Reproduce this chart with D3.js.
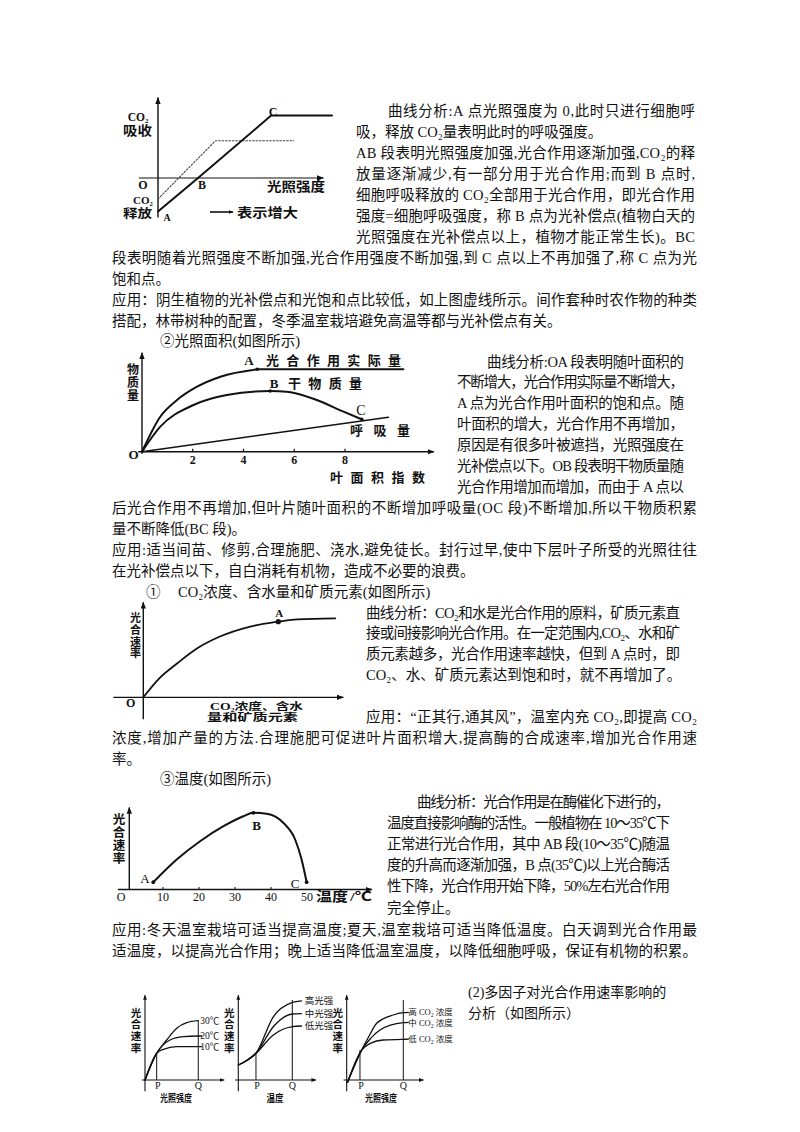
<!DOCTYPE html>
<html lang="zh-CN">
<head>
<meta charset="utf-8">
<title>光合作用影响因素</title>
<script src="https://cdn.jsdelivr.net/npm/d3@7/dist/d3.min.js"></script>
<style>
  html, body { margin:0; padding:0; background:#fff; }
  svg { display:block; }
</style>
</head>
<body>
<svg id="page" width="800" height="1132" viewBox="0 0 800 1132"></svg>
<script>
// ================= DATA =================
// Chart 1: 光照强度 vs CO2 吸收/释放
const c1Light = [0, 23, 65, 100];
const c1Sun = [-2.8, 0, 5.2, 5.2];
const c1LightShade = [0, 33, 78];
const c1Shade = [-1.75, 3.1, 3.1];

// Chart 2: 叶面积指数
const c2Ticks = [2, 4, 6, 8];
const c2LaiA = [0, 0.72, 1.38, 2.17, 3.09, 4.54, 10.3];
const c2Actual = [0, 35, 51.7, 65, 75, 82.4, 82.4];
const c2LaiB = [0, 0.72, 2.03, 3.34, 5.05, 5.71, 6.89, 7.94, 8.66];
const c2Dry = [0, 25, 46.7, 56.7, 60.7, 60, 51.7, 40, 32.4];
const c2LaiR = [0, 9.71];
const c2Resp = [0, 34.4];

// Chart 3: CO2浓度、含水量和矿质元素
const c3Conc = [0, 8, 17, 27, 38, 53, 67.5, 77, 96];
const c3Rate = [0, 19, 34, 49, 60.5, 70.5, 75.6, 78, 79];

// Chart 4: 温度
const c4Ticks = [10, 20, 30, 40, 50];
const c4Temp = [7.3, 13.8, 20.3, 26.8, 32.3, 35.1, 38.8, 43.4, 46.7, 48.5, 49.9];
const c4Rate = [7.3, 30, 48.3, 63.3, 73.3, 76.7, 75.7, 66.7, 50, 30, 7.3];

// Bottom charts (多因子)
const bL10x = [0, 14.6, 22.9, 39.6, 66.6, 71];
const bL10y = [0, 33.4, 38.4, 41.7, 41.7, 41.7];
const bL20x = [0, 14.6, 31.3, 47.9, 66.6, 71];
const bL20y = [0, 33.4, 50, 54.1, 55, 55];
const bL30x = [0, 14.6, 27.1, 39.6, 52.1, 66.6];
const bL30y = [0, 33.4, 50, 64.6, 71.6, 74.1];
const bLLabels = ['30℃', '20℃', '10℃'];

const bMx = [0, 10, 22.1, 43.75, 67.5, 79];
const bMLow = [18.75, 24, 33.4, 56.25, 66.6, 67.5];
const bMMid = [18.75, 24, 33.4, 66.6, 82.5, 83];
const bMHigh = [18.75, 24, 33.4, 79, 97, 99];
const bMLabels = ['高光强', '中光强', '低光强'];

const bRLowx = [1, 18.75, 30, 45.75, 70.75, 77];
const bRLowy = [-3, 37.5, 46, 50, 50.9, 51];
const bRMidx = [1, 18.75, 30, 41.6, 70.75, 77];
const bRMidy = [-3, 37.5, 52, 62.5, 71.6, 72];
const bRHighx = [1, 18.75, 28, 37.5, 58.25, 70.75, 77];
const bRHighy = [-3, 37.5, 55, 70.9, 81.25, 84.1, 84.5];
const bRLabels = ['高 CO₂ 浓度', '中 CO₂ 浓度', '低 CO₂ 浓度'];

// ================= TEXT =================
const txt1Side = [
  '曲线分析:A 点光照强度为 0,此时只进行细胞呼',
  '吸，释放 CO₂量表明此时的呼吸强度。',
  'AB 段表明光照强度加强,光合作用逐渐加强,CO₂的释',
  '放量逐渐减少,有一部分用于光合作用;而到 B 点时,',
  '细胞呼吸释放的 CO₂全部用于光合作用，即光合作用',
  '强度=细胞呼吸强度，称 B 点为光补偿点(植物白天的',
  '光照强度在光补偿点以上，植物才能正常生长)。BC'
];
const txt1Full = [
  '段表明随着光照强度不断加强,光合作用强度不断加强,到 C 点以上不再加强了,称 C 点为光',
  '饱和点。',
  '应用：阴生植物的光补偿点和光饱和点比较低，如上图虚线所示。间作套种时农作物的种类',
  '搭配，林带树种的配置，冬季温室栽培避免高温等都与光补偿点有关。'
];
const txt2Head = ['②光照面积(如图所示)'];
const txt2Side = [
  '曲线分析:OA 段表明随叶面积的',
  '不断增大，光合作用实际量不断增大，',
  'A 点为光合作用叶面积的饱和点。随',
  '叶面积的增大，光合作用不再增加，',
  '原因是有很多叶被遮挡，光照强度在',
  '光补偿点以下。OB 段表明干物质量随',
  '光合作用增加而增加，而由于 A 点以'
];
const txt2Full = [
  '后光合作用不再增加,但叶片随叶面积的不断增加呼吸量(OC 段)不断增加,所以干物质积累',
  '量不断降低(BC 段)。',
  '应用:适当间苗、修剪,合理施肥、浇水,避免徒长。封行过早,使中下层叶子所受的光照往往',
  '在光补偿点以下，自白消耗有机物，造成不必要的浪费。'
];
const txt3Num = ['①'];
const txt3Head = ['CO₂浓度、含水量和矿质元素(如图所示)'];
const txt3Side = [
  '曲线分析：CO₂和水是光合作用的原料，矿质元素直',
  '接或间接影响光合作用。在一定范围内,CO₂、水和矿',
  '质元素越多，光合作用速率越快，但到 A 点时，即',
  'CO₂、水、矿质元素达到饱和时，就不再增加了。'
];
const txt3App = ['应用：“正其行,通其风”，温室内充 CO₂,即提高 CO₂'];
const txt3Full = [
  '浓度,增加产量的方法.合理施肥可促进叶片面积增大,提高酶的合成速率,增加光合作用速',
  '率。'
];
const txt4Head = ['③温度(如图所示)'];
const txt4Side = [
  '曲线分析：光合作用是在酶催化下进行的，',
  '温度直接影响酶的活性。一般植物在 10～35℃下',
  '正常进行光合作用，其中 AB 段(10～35℃)随温',
  '度的升高而逐渐加强，B 点(35℃)以上光合酶活',
  '性下降，光合作用开始下降，50%左右光合作用',
  '完全停止。'
];
const txt4Full = [
  '应用:冬天温室栽培可适当提高温度;夏天,温室栽培可适当降低温度。白天调到光合作用最',
  '适温度，以提高光合作用；晚上适当降低温室温度，以降低细胞呼吸，保证有机物的积累。'
];
const txt5 = ['(2)多因子对光合作用速率影响的', '分析（如图所示）'];

// ================= RENDER =================
const svg = d3.select('#page');
const INK = '#111';
const BODY = '"Liberation Serif","Noto Sans CJK SC",serif';
const LBL = '"Liberation Serif","Noto Sans CJK SC",serif';

const defs = svg.append('defs');
defs.append('marker').attr('id', 'arr')
  .attr('viewBox', '0 0 10 10').attr('refX', 9).attr('refY', 5)
  .attr('markerWidth', 7).attr('markerHeight', 7)
  .attr('markerUnits', 'userSpaceOnUse').attr('orient', 'auto')
  .append('path').attr('d', 'M0,1.2L10,5L0,8.8Z').attr('fill', INK);
defs.append('marker').attr('id', 'arrS')
  .attr('viewBox', '0 0 10 10').attr('refX', 9).attr('refY', 5)
  .attr('markerWidth', 5).attr('markerHeight', 5)
  .attr('markerUnits', 'userSpaceOnUse').attr('orient', 'auto')
  .append('path').attr('d', 'M0,1.2L10,5L0,8.8Z').attr('fill', INK);

function writeBlock(lines, cfg) {
  const fs = cfg.fs || 14.5;
  lines.forEach((s, i) => {
    const x = cfg.x + (i === 0 && cfg.indent ? cfg.indent : 0);
    const y = cfg.y + i * (cfg.lh || 21);
    const t = svg.append('text')
      .attr('x', x).attr('y', y + fs * 0.38)
      .attr('font-size', fs).attr('font-family', BODY)
      .attr('fill', INK).text(s);
    if (cfg.justify && cfg.justify.includes(i)) {
      t.attr('textLength', cfg.right - x).attr('lengthAdjust', 'spacing');
    }
  });
}

function label(g, s, x, y, o = {}) {
  const fs = o.fs || 13;
  const t = g.append('text')
    .attr('x', x).attr('y', y + fs * 0.36)
    .attr('font-size', fs).attr('font-family', LBL)
    .attr('font-weight', o.weight || 700)
    .attr('text-anchor', o.anchor || 'start')
    .attr('fill', INK).text(s);
  if (o.width) t.attr('textLength', o.width).attr('lengthAdjust', o.adj || 'spacingAndGlyphs');
  return t;
}

function vlabel(g, chars, x, y0, step, fs) {
  Array.from(chars).forEach((c, i) => label(g, c, x, y0 + i * step, { fs, anchor: 'middle' }));
}

function axisLine(g, xa, ya, xb, yb, w = 1.4, m = 'arr') {
  const l = g.append('line').attr('x1', xa).attr('y1', ya).attr('x2', xb).attr('y2', yb)
    .attr('stroke', INK).attr('stroke-width', w);
  if (m) l.attr('marker-end', `url(#${m})`);
  return l;
}

function curve(g, xs, ys, xv, yv, w, type) {
  const gen = d3.line().x(d => xs(d[0])).y(d => ys(d[1])).curve(type || d3.curveMonotoneX);
  return g.append('path').attr('d', gen(d3.zip(xv, yv)))
    .attr('fill', 'none').attr('stroke', INK).attr('stroke-width', w)
    .attr('stroke-linejoin', 'round').attr('stroke-linecap', 'round');
}

// ---------- Text blocks ----------
writeBlock(txt1Side, { x: 356, indent: 32, y: 110, lh: 21, right: 695, justify: [0, 2, 3, 4, 5, 6] });
writeBlock(txt1Full, { x: 112, y: 257, lh: 21, right: 697, justify: [0, 2] });
writeBlock(txt2Head, { x: 160, y: 340 });
writeBlock(txt2Side, { x: 457, indent: 30, y: 361, lh: 20.9, right: 684, justify: [0, 1, 2, 3, 4, 5, 6] });
writeBlock(txt2Full, { x: 112, y: 507, lh: 21, right: 697, justify: [0, 2] });
writeBlock(txt3Num, { x: 146, y: 591 });
writeBlock(txt3Head, { x: 178, y: 591 });
writeBlock(txt3Side, { x: 366, y: 612, lh: 20.7, right: 680, justify: [0, 1, 2] });
writeBlock(txt3App, { x: 366, y: 716, right: 697, justify: [0] });
writeBlock(txt3Full, { x: 112, y: 737, lh: 21, right: 697, justify: [0] });
writeBlock(txt4Head, { x: 160, y: 778 });
writeBlock(txt4Side, { x: 387, indent: 30, y: 801, lh: 21.2, right: 670, justify: [0, 1, 2, 3, 4] });
writeBlock(txt4Full, { x: 112, y: 929, lh: 21, right: 697, justify: [0, 1] });
writeBlock(txt5, { x: 468, y: 992, lh: 21, fs: 14 });

// ---------- Chart 1 ----------
{
  const g = svg.append('g');
  const x = d3.scaleLinear().domain([0, 100]).range([158, 332]);
  const y = d3.scaleLinear().domain([-3, 7]).range([214, 94]);
  axisLine(g, x(0), y(-3.3), x(0), y(6.7), 1.4);
  axisLine(g, x(-11), y(0), x(95), y(0), 1.2);
  curve(g, x, y, c1LightShade, c1Shade, 1.1, d3.curveLinear).attr('stroke-dasharray', '1.6,1.8').attr('stroke', '#444');
  curve(g, x, y, c1Light, c1Sun, 2, d3.curveLinear);
  label(g, 'CO₂', 138, 117, { fs: 11.5, anchor: 'middle' });
  label(g, '吸收', 137.5, 130, { fs: 13, anchor: 'middle', width: 29 });
  label(g, 'O', 143, 185, { fs: 12, anchor: 'middle' });
  label(g, 'CO₂', 143, 200, { fs: 11, anchor: 'middle' });
  label(g, '释放', 137.5, 213, { fs: 12.5, anchor: 'middle', width: 29 });
  label(g, 'A', 167, 217, { fs: 10, anchor: 'middle' });
  label(g, 'B', x(c1Light[1]) + 4, 185, { fs: 12, anchor: 'middle' });
  label(g, 'C', x(c1Light[2]) + 2, 112, { fs: 12, anchor: 'middle' });
  label(g, '光照强度', 267, 186, { fs: 13, width: 58 });
  axisLine(g, 210, 212, 233, 212, 1.6, 'arrS');
  label(g, '表示增大', 237, 212, { fs: 13, width: 61 });
}

// ---------- Chart 2 ----------
{
  const g = svg.append('g');
  const x = d3.scaleLinear().domain([0, 8]).range([142, 345]);
  const y = d3.scaleLinear().domain([0, 100]).range([451.7, 351.7]);
  axisLine(g, x(0), y(-2), x(0), y(99), 1.4);
  axisLine(g, x(-0.15), y(0), x(11.5), y(0), 1.4);
  c2Ticks.forEach(t => {
    g.append('line').attr('x1', x(t)).attr('x2', x(t)).attr('y1', y(0)).attr('y2', y(0) - 3)
      .attr('stroke', INK).attr('stroke-width', 1.2);
    label(g, String(t), x(t), 460, { fs: 12, anchor: 'middle' });
  });
  curve(g, x, y, c2LaiA.slice(0, 6), c2Actual.slice(0, 6), 2);
  curve(g, x, y, c2LaiA.slice(5), c2Actual.slice(5), 2, d3.curveLinear);
  curve(g, x, y, c2LaiB, c2Dry, 2);
  curve(g, x, y, c2LaiR, c2Resp, 1.6, d3.curveLinear);
  [[c2LaiA[5], c2Actual[5]], [c2LaiB[4], c2Dry[4]], [c2LaiB[8], c2Dry[8]]].forEach(p => {
    g.append('circle').attr('cx', x(p[0])).attr('cy', y(p[1])).attr('r', 1.8).attr('fill', INK);
  });
  label(g, 'O', 133.5, 454, { fs: 13, anchor: 'middle' });
  vlabel(g, '物质量', 133, 370, 13, 12);
  label(g, 'A', 249, 360, { fs: 13, anchor: 'middle' });
  label(g, '光合作用实际量', 266, 360, { fs: 13, width: 135, adj: 'spacing' });
  label(g, 'B', 274, 383, { fs: 13, anchor: 'middle' });
  label(g, '干物质量', 288, 383, { fs: 13, width: 74, adj: 'spacing' });
  label(g, 'C', 361, 410, { fs: 14, anchor: 'middle', weight: 400 });
  label(g, '呼吸量', 350, 430, { fs: 13, width: 60, adj: 'spacing' });
  label(g, '叶面积指数', 330, 477, { fs: 13, width: 95, adj: 'spacing' });
}

// ---------- Chart 3 ----------
{
  const g = svg.append('g');
  const x = d3.scaleLinear().domain([0, 100]).range([143.3, 343.3]);
  const y = d3.scaleLinear().domain([0, 100]).range([697.3, 597.3]);
  axisLine(g, x(0), y(-22), x(0), y(95), 1.4);
  axisLine(g, x(-15), y(0), x(100), y(0), 1.3);
  curve(g, x, y, c3Conc, c3Rate, 1.8);
  g.append('circle').attr('cx', x(c3Conc[6])).attr('cy', y(c3Rate[6])).attr('r', 2.6).attr('fill', INK);
  label(g, 'A', x(c3Conc[6]) + 1, 613, { fs: 11, anchor: 'middle' });
  label(g, 'O', 130.7, 703, { fs: 12, anchor: 'middle' });
  vlabel(g, '光合速率', 135.5, 618, 11.8, 11);
  label(g, 'CO₂浓度、含水', 210, 706.5, { fs: 10, width: 93 });
  label(g, '量和矿质元素', 207, 717.5, { fs: 10, width: 91 });
}

// ---------- Chart 4 ----------
{
  const g = svg.append('g');
  const x = d3.scaleLinear().domain([0, 50]).range([127, 307]);
  const y = d3.scaleLinear().domain([0, 100]).range([889.5, 789.5]);
  axisLine(g, 129.3, y(0), 129.3, y(82), 1.4);
  axisLine(g, x(-2.5), y(0), 372, y(0), 1.5);
  c4Ticks.slice(0, 4).forEach(t => {
    g.append('line').attr('x1', x(t)).attr('x2', x(t)).attr('y1', y(0)).attr('y2', y(0) - 2.5)
      .attr('stroke', INK).attr('stroke-width', 1);
  });
  c4Ticks.forEach(t => label(g, String(t), x(t), 897, { fs: 12, anchor: 'middle', weight: 400 }));
  curve(g, x, y, c4Temp, c4Rate, 2);
  [0, 5, 10].forEach(i => {
    g.append('circle').attr('cx', x(c4Temp[i])).attr('cy', y(c4Rate[i])).attr('r', 1.9).attr('fill', INK);
  });
  label(g, 'A', 145, 878, { fs: 13, anchor: 'middle', weight: 400 });
  label(g, 'B', 256.7, 825, { fs: 13, anchor: 'middle' });
  label(g, 'C', 295, 883, { fs: 13, anchor: 'middle', weight: 400 });
  label(g, 'O', 121, 897, { fs: 12, anchor: 'middle', weight: 400 });
  vlabel(g, '光合速率', 119, 819, 13.3, 12.5);
  label(g, '温度', 316, 896, { fs: 13, width: 32 });
  label(g, '/℃', 350, 896, { fs: 12.5, width: 22 });
}

// ---------- Bottom charts ----------
function smallChart(cfg) {
  const g = svg.append('g');
  const x = d3.scaleLinear().domain([0, 100]).range(cfg.xr);
  const y = d3.scaleLinear().domain([0, 100]).range([1080, 1000]);
  axisLine(g, x(0), y(-14), x(0), y(106), 1.1, 'arrS');
  axisLine(g, x(-4), y(0), x(cfg.xEnd), y(0), 1.1, 'arrS');
  g.append('line').attr('x1', x(cfg.P)).attr('x2', x(cfg.P)).attr('y1', y(0)).attr('y2', y(cfg.Ptop))
    .attr('stroke', INK).attr('stroke-width', 1);
  g.append('line').attr('x1', x(cfg.Q)).attr('x2', x(cfg.Q)).attr('y1', y(0)).attr('y2', y(cfg.Qtop))
    .attr('stroke', INK).attr('stroke-width', 1);
  cfg.curves.forEach(c => curve(g, x, y, c[0], c[1], 1.3));
  cfg.labels.forEach((s, i) => label(g, s, x(cfg.labX), y(cfg.labY[i]), { fs: cfg.labFs, weight: 400 }));
  vlabel(g, '光合速率', x(0) - 9, 1013, 11.6, 10.5);
  label(g, 'P', x(cfg.P) + 1, 1085, { fs: 10, anchor: 'middle', weight: 400 });
  label(g, 'Q', x(cfg.Q), 1085, { fs: 10, anchor: 'middle', weight: 400 });
  label(g, cfg.xTitle, cfg.titleX, 1098.5, { fs: 10, anchor: 'middle', width: cfg.titleW });
}

smallChart({
  xr: [145, 225], xEnd: 99, P: 14.6, Ptop: 33.4, Q: 66.6, Qtop: 74.1,
  curves: [[bL10x, bL10y], [bL20x, bL20y], [bL30x, bL30y]],
  labels: bLLabels, labX: 69, labY: [74.1, 55, 41.7], labFs: 9.5,
  xTitle: '光照强度', titleX: 176, titleW: 32
});
smallChart({
  xr: [238.3, 318.3], xEnd: 97, P: 22.1, Ptop: 33.4, Q: 67.5, Qtop: 100,
  curves: [[bMx, bMLow], [bMx, bMMid], [bMx, bMHigh]],
  labels: bMLabels, labX: 83, labY: [99, 83.5, 67.5], labFs: 9.5,
  xTitle: '温度', titleX: 275, titleW: 17
});
smallChart({
  xr: [346.7, 426.7], xEnd: 96, P: 16.6, Ptop: 37.5, Q: 70.75, Qtop: 100,
  curves: [[bRLowx, bRLowy], [bRMidx, bRMidy], [bRHighx, bRHighy]],
  labels: bRLabels, labX: 77, labY: [84.5, 71, 51], labFs: 8.5,
  xTitle: '光照强度', titleX: 381, titleW: 32
});
</script>
</body>
</html>
